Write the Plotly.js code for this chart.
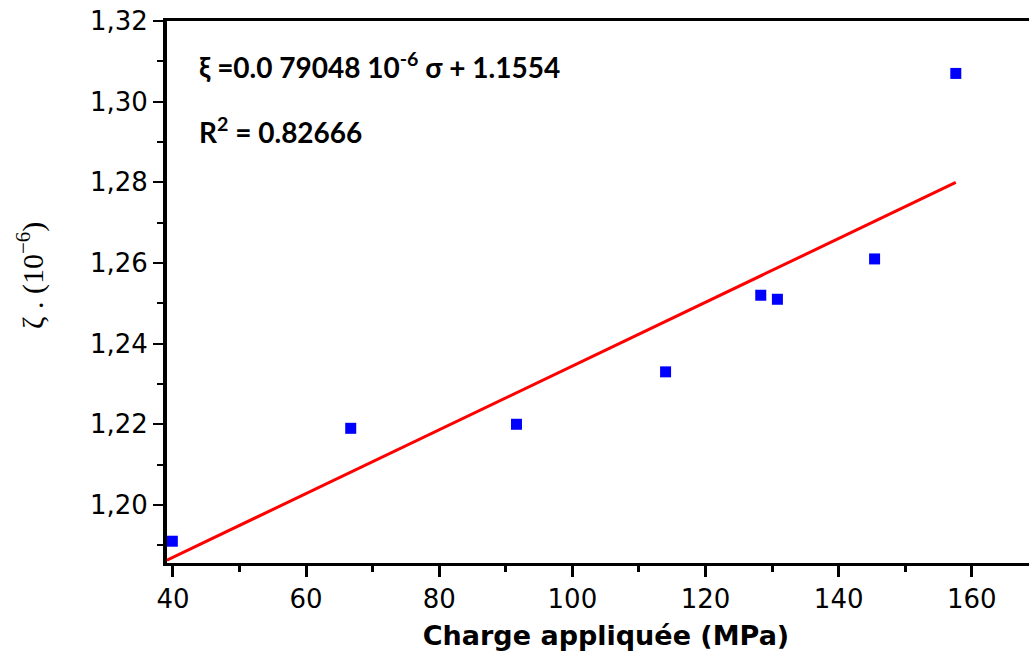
<!DOCTYPE html>
<html>
<head>
<meta charset="utf-8">
<script src="https://cdn.plot.ly/plotly-3.0.1.min.js"></script>
<style>
  html, body { margin: 0; padding: 0; overflow: hidden; background: #fff; }
  #chart { width: 1045px; height: 651px; }
</style>
</head>
<body>
<div id="chart"></div>
<script>
// Measured strain vs applied load
const charge = [39.9, 66.7, 91.6, 114.0, 128.3, 130.8, 145.4, 157.6];
const zeta = [1.191, 1.219, 1.220, 1.233, 1.252, 1.251, 1.261, 1.307];

// Linear fit coefficients (ξ = a·σ + b)
const slope = 0.00079048;
const intercept = 1.1554;
const fitRange = [39.1, 157.6];

const xRange = [39.1, 171];
const yRange = [1.1856, 1.32];

const fitY = fitRange.map(s => slope * s + intercept);

const tickFont = { family: 'DejaVu Sans, Verdana, sans-serif', size: 26, color: '#000' };

const traces = [
  {
    x: fitRange, y: fitY, mode: 'lines', type: 'scatter',
    line: { color: '#ff0000', width: 3 }, hoverinfo: 'skip'
  },
  {
    x: charge, y: zeta, mode: 'markers', type: 'scatter',
    marker: { symbol: 'square', size: 11, color: '#0000ff' }, cliponaxis: false
  }
];

const layout = {
  width: 1045, height: 651,
  margin: { l: 167, r: 0, t: 21, b: 88 },
  paper_bgcolor: '#fff', plot_bgcolor: '#fff',
  showlegend: false,
  separators: ', ',
  xaxis: {
    range: xRange, dtick: 20, tick0: 0,
    showgrid: false, zeroline: false,
    showline: true, linecolor: '#000', linewidth: 3, mirror: true,
    ticks: 'outside', ticklen: 11, tickwidth: 3, tickcolor: '#000',
    minor: { dtick: 10, ticks: 'outside', ticklen: 6, tickwidth: 3, tickcolor: '#000' },
    tickfont: tickFont,
    title: { text: 'Charge appliquée (MPa)', standoff: 16,
      font: { family: 'DejaVu Sans, Verdana, sans-serif', size: 27, color: '#000', weight: 'bold' } }
  },
  yaxis: {
    range: yRange, dtick: 0.02, tick0: 1.2, tickformat: '.2f',
    showgrid: false, zeroline: false,
    showline: true, linecolor: '#000', linewidth: 4, mirror: false,
    ticks: 'outside', ticklen: 10, tickwidth: 2, tickcolor: '#000',
    minor: { dtick: 0.01, ticks: 'outside', ticklen: 6, tickwidth: 2, tickcolor: '#000' },
    tickfont: tickFont
  },
  annotations: [
    // vertical axis label
    {
      xref: 'paper', yref: 'paper', x: -137 / 878, y: (563 - 276) / 542,
      xanchor: 'center', yanchor: 'middle', showarrow: false, textangle: -90,
      text: 'ζ . (10<sup>−6</sup>)',
      font: { family: 'Liberation Serif, Times New Roman, serif', size: 30, color: '#000' }
    },
    {
      xref: 'paper', yref: 'paper', x: 30 / 878, y: (563 - 65) / 542,
      xanchor: 'left', yanchor: 'middle', showarrow: false,
      text: 'ξ =0.0 79048 10<sup>-6</sup> σ + 1.1554',
      font: { family: 'Lato, Open Sans, sans-serif', size: 28, color: '#000', weight: 'bold' }
    },
    {
      xref: 'paper', yref: 'paper', x: 30 / 878, y: (563 - 130) / 542,
      xanchor: 'left', yanchor: 'middle', showarrow: false,
      text: 'R<sup>2</sup> = 0.82666',
      font: { family: 'Lato, Open Sans, sans-serif', size: 28, color: '#000', weight: 'bold' }
    }
  ]
};

Plotly.newPlot('chart', traces, layout, { displayModeBar: false, staticPlot: true });
</script>
</body>
</html>
